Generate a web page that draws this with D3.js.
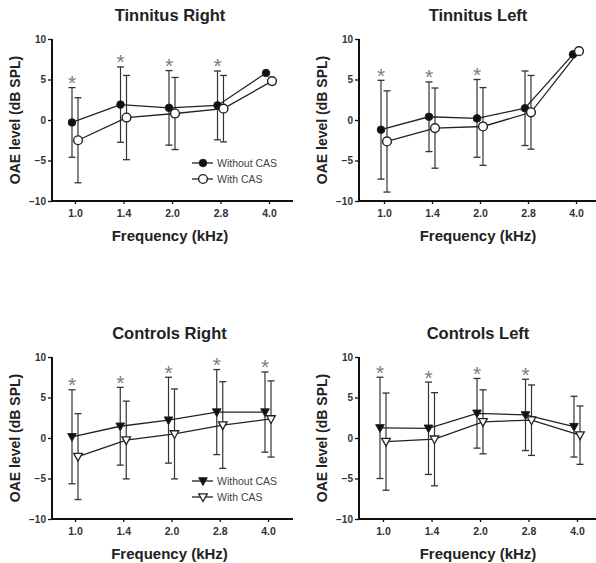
<!DOCTYPE html>
<html><head><meta charset="utf-8">
<script src="https://cdn.jsdelivr.net/npm/d3@7"></script>
<style>
body{margin:0;background:#fff;}
svg{display:block;font-family:"Liberation Sans",Arial,Helvetica,sans-serif;}
</style></head>
<body>
<svg id="chart" width="596" height="563"></svg>
<script>
// ---------- data ----------
const categories = ["1.0","1.4","2.0","2.8","4.0"];
const yTicks = [-10,-5,0,5,10];
const panelTitles = ["Tinnitus Right","Tinnitus Left","Controls Right","Controls Left"];
const seriesNames = ["Without CAS","With CAS"];

const tinRightWithout   = [-0.3, 1.9, 1.5, 1.8, 5.8];
const tinRightWithoutSD = [4.3, 4.65, 4.6, 4.25, null];
const tinRightWith      = [-2.5, 0.3, 0.8, 1.4, 4.8];
const tinRightWithSD    = [5.25, 5.2, 4.45, 4.1, null];
const tinRightSig       = [1,1,1,1,0];

const tinLeftWithout    = [-1.2, 0.4, 0.2, 1.45, 8.1];
const tinLeftWithoutSD  = [6.1, 4.3, 4.8, 4.6, null];
const tinLeftWith       = [-2.65, -1.0, -0.8, 0.95, 8.5];
const tinLeftWithSD     = [6.25, 4.95, 4.8, 4.55, null];
const tinLeftSig        = [1,1,1,0,0];

const ctrlRightWithout   = [0.15, 1.45, 2.2, 3.2, 3.2];
const ctrlRightWithoutSD = [5.8, 4.8, 5.3, 5.25, 4.95];
const ctrlRightWith      = [-2.3, -0.25, 0.5, 1.6, 2.35];
const ctrlRightWithSD    = [5.3, 4.8, 5.55, 5.35, 4.7];
const ctrlRightSig       = [1,1,1,1,1];

const ctrlLeftWithout    = [1.25, 1.2, 3.05, 2.85, 1.4];
const ctrlLeftWithoutSD  = [6.25, 5.7, 4.3, 4.4, 3.75];
const ctrlLeftWith       = [-0.45, -0.15, 2.0, 2.2, 0.35];
const ctrlLeftWithSD     = [6.0, 5.75, 3.95, 4.35, 3.6];
const ctrlLeftSig        = [1,1,1,1,0];

// ---------- layout ----------
const panels = [
  {title:panelTitles[0], w:tinRightWithout, wsd:tinRightWithoutSD, o:tinRightWith, osd:tinRightWithSD, sig:tinRightSig,
   ax:52, yTop:39, yBot:201, x0:75, x1:269, xEnd:293, legend:true, marker:"circle"},
  {title:panelTitles[1], w:tinLeftWithout, wsd:tinLeftWithoutSD, o:tinLeftWith, osd:tinLeftWithSD, sig:tinLeftSig,
   ax:359, yTop:39, yBot:201, x0:384, x1:576, xEnd:598, legend:false, marker:"circle"},
  {title:panelTitles[2], w:ctrlRightWithout, wsd:ctrlRightWithoutSD, o:ctrlRightWith, osd:ctrlRightWithSD, sig:ctrlRightSig,
   ax:52, yTop:357, yBot:519, x0:75, x1:268, xEnd:293, legend:true, marker:"triangle"},
  {title:panelTitles[3], w:ctrlLeftWithout, wsd:ctrlLeftWithoutSD, o:ctrlLeftWith, osd:ctrlLeftWithSD, sig:ctrlLeftSig,
   ax:359, yTop:357, yBot:519, x0:383, x1:577, xEnd:598, legend:false, marker:"triangle"}
];

const svg = d3.select("#chart");
const lineCol = "#222";
const off = 3;

function drawMarker(g, type, filled, cx, cy){
  if(type==="circle"){
    g.append("circle").attr("cx",cx).attr("cy",cy).attr("r",filled?3.8:4.4)
      .attr("fill",filled?"#111":"#fff").attr("stroke","#222").attr("stroke-width",filled?1:1.4);
  } else {
    const s=4.3;
    g.append("path").attr("d",`M${cx-s},${cy-s*0.75}L${cx+s},${cy-s*0.75}L${cx},${cy+s*1.05}Z`)
      .attr("fill",filled?"#111":"#fff").attr("stroke","#222").attr("stroke-width",filled?1:1.3)
      .attr("stroke-linejoin","miter");
  }
}

panels.forEach(p=>{
  const g = svg.append("g");
  const x = d3.scalePoint().domain(categories).range([p.x0,p.x1]);
  const y = d3.scaleLinear().domain([-10,10]).range([p.yBot,p.yTop]);

  // title
  g.append("text").attr("x",(p.x0+p.x1)/2 - 2).attr("y",p.yTop-18)
    .attr("text-anchor","middle").attr("font-size",16.5).attr("font-weight","bold").attr("fill","#222")
    .text(p.title);

  // y axis
  const yAxis = d3.axisLeft(y).tickValues(yTicks).tickSize(4).tickPadding(2).tickFormat(d3.format("d"));
  const ya = g.append("g").attr("transform",`translate(${p.ax},0)`).call(yAxis);
  ya.select(".domain").remove();
  ya.selectAll(".tick line").attr("stroke","#111").attr("stroke-width",1.3);
  ya.selectAll(".tick text").attr("font-size",10).attr("font-weight","bold").attr("fill","#333")
    .attr("font-family","Liberation Sans, Arial, sans-serif");
  g.append("line").attr("x1",p.ax).attr("x2",p.ax).attr("y1",p.yTop).attr("y2",p.yBot)
    .attr("stroke","#111").attr("stroke-width",2);

  // x axis
  const xAxis = d3.axisBottom(x).tickSize(3).tickPadding(6);
  const xa = g.append("g").attr("transform",`translate(0,${p.yBot})`).call(xAxis);
  xa.select(".domain").remove();
  xa.selectAll(".tick line").attr("stroke","#111").attr("stroke-width",1.3);
  xa.selectAll(".tick text").attr("font-size",10.5).attr("font-weight","bold").attr("fill","#333")
    .attr("font-family","Liberation Sans, Arial, sans-serif");
  g.append("line").attr("x1",p.ax-1).attr("x2",p.xEnd).attr("y1",p.yBot).attr("y2",p.yBot)
    .attr("stroke","#111").attr("stroke-width",2);

  // axis titles
  g.append("text").attr("x",(p.x0+p.x1)/2 - 2).attr("y",p.yBot+40)
    .attr("text-anchor","middle").attr("font-size",15).attr("font-weight","bold").attr("fill","#222")
    .text("Frequency (kHz)");
  g.append("text").attr("transform",`translate(${p.ax-32},${(p.yTop+p.yBot)/2}) rotate(-90)`)
    .attr("text-anchor","middle").attr("font-size",14).attr("font-weight","bold").attr("fill","#222")
    .text("OAE level (dB SPL)");

  const series = [
    {vals:p.w, sd:p.wsd, dx:-off, filled:true},
    {vals:p.o, sd:p.osd, dx:off, filled:false}
  ];

  // error bars
  series.forEach(s=>{
    s.vals.forEach((v,i)=>{
      const sd = s.sd[i];
      if(sd==null) return;
      const xx = x(categories[i]) + s.dx;
      g.append("line").attr("x1",xx).attr("x2",xx).attr("y1",y(v+sd)).attr("y2",y(v-sd))
        .attr("stroke","#333").attr("stroke-width",1.2);
      [v+sd, v-sd].forEach(e=>{
        g.append("line").attr("x1",xx-3.5).attr("x2",xx+3.5).attr("y1",y(e)).attr("y2",y(e))
          .attr("stroke","#333").attr("stroke-width",1.3);
      });
    });
  });

  // lines
  const line = d3.line().x(d=>d[0]).y(d=>d[1]);
  series.forEach(s=>{
    const pts = s.vals.map((v,i)=>[x(categories[i])+s.dx, y(v)]);
    g.append("path").attr("d",line(pts)).attr("fill","none").attr("stroke",lineCol).attr("stroke-width",1.3);
  });

  // markers
  series.forEach(s=>{
    s.vals.forEach((v,i)=>drawMarker(g,p.marker,s.filled,x(categories[i])+s.dx,y(v)));
  });

  // significance asterisks
  p.sig.forEach((sg,i)=>{
    if(!sg) return;
    const tops = series.map(s=>s.vals[i] + (s.sd[i]||0));
    const top = y(d3.max(tops));
    g.append("text").attr("x",x(categories[i])-off).attr("y",top-8+10.5)
      .attr("text-anchor","middle").attr("font-size",21).attr("fill","#7d7d7d")
      .text("*");
  });

  // legend
  if(p.legend){
    const lx = p.ax + 140, ly0 = p.yBot - 38;
    series.forEach((s,k)=>{
      const yy = ly0 + k*16;
      g.append("line").attr("x1",lx).attr("x2",lx+21).attr("y1",yy).attr("y2",yy)
        .attr("stroke",lineCol).attr("stroke-width",1.3);
      drawMarker(g,p.marker,s.filled,lx+11,yy);
      g.append("text").attr("x",lx+25).attr("y",yy+3.7).attr("font-size",10.5).attr("fill","#444")
        .text(seriesNames[k]);
    });
  }
});
</script>
</body></html>
